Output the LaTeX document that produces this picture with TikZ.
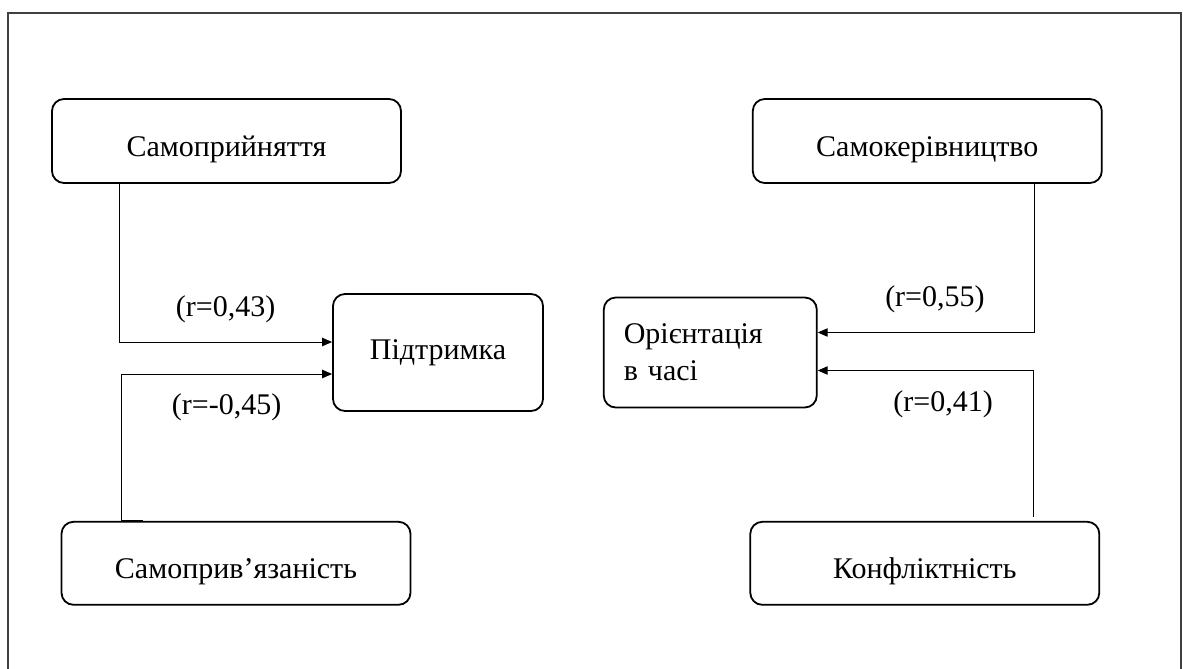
\documentclass[tikz,border=0pt]{standalone}
\usepackage{fontspec}
\setmainfont{Liberation Serif}
\usepackage{tikz}
\usetikzlibrary{positioning,arrows.meta}

\tikzset{
  frame/.style = {draw, rounded corners = 6pt, line width = 0.9pt},
  box/.style = {frame, minimum width = 174.5pt, minimum height = 42pt,
                text height = 17pt, text depth = 2pt},
  midbox/.style = {frame, minimum width = 105pt, minimum height = 58.5pt},
  link/.style = {->, line width = 0.5pt}
}

\begin{document}
\begin{tikzpicture}[x = 0.5pt, y = -0.5pt, font = \fontsize{15}{18.5}\selectfont,
                    >={Triangle[length = 5pt, width = 4.2pt]}]
\useasboundingbox (0,0) rectangle (1183,669);
\draw [line width = 1pt, black!75] (8,669) -- (8,13) -- (1181,13) -- (1181,669);

\node [box] (selfacc) at (226.5,141) {Самоприйняття};
\node [box] (selfman) [right = 175pt of selfacc] {Самокерівництво};
\node [box, minimum height = 41.5pt] (selfbond) [below = 168.5pt of selfacc, xshift = 4.75pt] {Самоприв’язаність};
\node [box, minimum height = 41.5pt] (conflict) [right = 169pt of selfbond] {Конфліктність};
\node [midbox] (support) at (438,352.5) {Підтримка};
\node [frame, minimum height = 55pt, minimum width = 106.5pt, inner xsep = 10pt,
       text width = 86.5pt, align = left] (timeor) [right = 29.5pt of support] {Орієнтація\\в часі};

\draw [link] ([xshift = -53.75pt]selfacc.south) |- node [pos = 0.75, above = 6pt] {(r=0,43)} ([yshift = 5.25pt]support.west);
\draw [link] ([xshift = -57.5pt]selfbond.north) |- node [pos = 0.75, below = 6.5pt] {(r=-0,45)} ([yshift = -10.75pt]support.west);
\draw [line width = 1.2pt] ([xshift = -57.5pt]selfbond.north) -- ++(11pt,0);
\draw [link] ([xshift = 53.75pt]selfman.south) |- node [pos = 0.73, above = 6pt] {(r=0,55)} ([yshift = 10pt]timeor.east);
\draw [link] ([xshift = 54.5pt, yshift = 2pt]conflict.north) |- node [pos = 0.71, below = 6.5pt] {(r=0,41)} ([yshift = -9pt]timeor.east);
\end{tikzpicture}
\end{document}
